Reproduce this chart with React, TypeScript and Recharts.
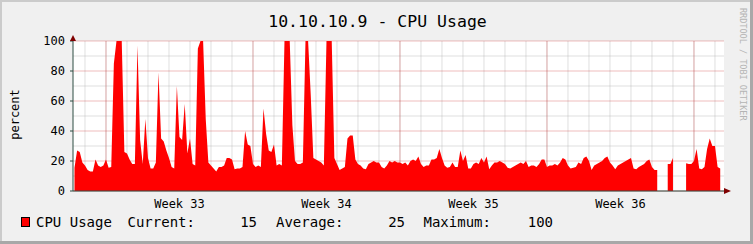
import React from "react";
import { AreaChart, Area, XAxis, YAxis, CartesianGrid } from "recharts";

// one sample every 3 hours, first sample half a day before the first day line
const START_DAY = -0.5;
const STEP_DAYS = 0.125;

const cpuUsage: (number | null)[] = [
  15.5, 27, 26, 19, 17, 14, 13, 13, 21, 17,
  16, 17, 21, 15.5, 16, 85, 100, 100, 100, 26,
  25, 21, 18, 18, 97, 34, 18, 48, 22, 15,
  15, 19, 79, 35, 33, 27, 22, 16, 15, 70,
  36, 34, 58, 25, 35, 18, 17, 95, 100, 100,
  48, 19, 17, 15, 13, 16, 16, 17, 22, 22,
  21, 14.5, 15, 15, 16, 40, 31, 30, 18, 16,
  17, 16, 55, 38, 27, 26, 31, 17, 18, 17,
  100, 100, 100, 44, 20, 18, 18, 19, 100, 100,
  64, 22, 21, 20, 19, 17, 100, 100, 100, 22,
  18, 14, 15, 16, 35, 37, 37, 21, 18, 17,
  15, 14.5, 18, 19, 20, 19, 19, 16, 15, 17,
  20, 19, 20, 19, 19, 18, 19, 17, 20, 21,
  20, 23, 18, 16, 17, 17, 21, 21, 22, 28,
  22, 17, 15.5, 16, 19, 16, 16, 27, 20, 24,
  15, 15, 18, 19, 18, 22, 19, 23, 14.5, 17,
  19, 19, 20, 19, 18, 15.5, 15, 16, 17, 18,
  19, 18, 20, 16, 17, 17, 16, 18, 21, 21,
  16, 17, 17, 18, 17, 19, 22, 21, 17, 15,
  15.5, 16, 19, 18, 22, 23, 20, 14, 17, 18,
  19, 20, 22, 23, 19, 17, 14.5, 17, 18, 19,
  20, 21, 22, 15, 14.5, 16, 17, 18, 20, 21,
  16, 14, 14, null, null, null, 18, 18, 22, null,
  null, null, null, 18.5, 18, 18, 20, 28, 15, 14.5,
  16, 28, 35, 30, 30, 16, 15,
];

const weekLabels = ["Week 33", "Week 34", "Week 35", "Week 36"];
const weekCenters = [4.5, 11.5, 18.5, 25.5];
const majorDays = [1, 8, 15, 22, 29];
const minorDays = Array.from({ length: 31 }, (_, i) => i);
const majorPercent = [0, 20, 40, 60, 80, 100];
const minorPercent = [10, 30, 50, 70, 90];

const legendName = "CPU Usage";
const legendStats = [
  { label: "Current:", value: "15" },
  { label: "Average:", value: "25" },
  { label: "Maximum:", value: "100" },
];

const data = cpuUsage.map((v, i) => ({ t: START_DAY + i * STEP_DAYS, cpu: v }));

const MONO = "'DejaVu Sans Mono', monospace";

export default function App() {
  return (
    <div
      style={{
        position: "absolute",
        left: 0,
        top: 0,
        width: 753,
        height: 244,
        background: "#f0f0f0",
        fontFamily: MONO,
      }}
    >
      <AreaChart
        width={753}
        height={244}
        data={data}
        margin={{ top: 41, right: 29, bottom: 23, left: 0 }}
      >
        <CartesianGrid
          fill="#ffffff"
          stroke="none"
          horizontal={false}
          vertical={false}
        />
        <XAxis
          dataKey="t"
          type="number"
          domain={[-0.571, 30.43]}
          ticks={weekCenters}
          tickFormatter={(v) => weekLabels[weekCenters.indexOf(v)] ?? ""}
          tickLine={false}
          tickSize={6}
          tickMargin={2}
          height={30}
          axisLine={{ stroke: "#2c4d43" }}
          tick={{ fill: "#000", fontSize: 12, fontFamily: MONO }}
          allowDataOverflow
        />
        <YAxis
          type="number"
          domain={[0, 100]}
          ticks={majorPercent}
          width={73}
          tickSize={3}
          tickMargin={5}
          tickLine={{ stroke: "#2c4d43" }}
          axisLine={{ stroke: "#2c4d43" }}
          tick={{ fill: "#000", fontSize: 12, fontFamily: MONO }}
        />
        <Area
          type="linear"
          dataKey="cpu"
          stroke="none"
          fill="#ff0000"
          fillOpacity={1}
          isAnimationActive={false}
        />
        <CartesianGrid
          stroke="#b0b0b0"
          strokeOpacity={0.4}
          verticalValues={minorDays}
          horizontalValues={minorPercent}
        />
        <CartesianGrid
          stroke="#d04040"
          strokeOpacity={0.35}
          verticalValues={majorDays}
          horizontalValues={majorPercent}
        />
      </AreaChart>

      <svg
        width={753}
        height={244}
        style={{ position: "absolute", left: 0, top: 0, pointerEvents: "none" }}
        fontFamily={MONO}
      >
        {/* frame */}
        <rect x={0} y={0} width={753} height={2} fill="#cbcbcb" />
        <rect x={0} y={0} width={2} height={244} fill="#cbcbcb" />
        <rect x={750} y={0} width={3} height={244} fill="#a8a8a8" />
        <rect x={0} y={241} width={753} height={3} fill="#a8a8a8" />

        {/* axis arrows */}
        <polygon points="70,41 76,41 73,35" fill="#7f0000" />
        <polygon points="724,188 724,194 731,191" fill="#7f0000" />

        <text x={377.5} y={26.5} textAnchor="middle" fontSize={16.5} fill="#000">
          10.10.10.9 - CPU Usage
        </text>
        <text
          x={18.5}
          y={114.5}
          textAnchor="middle"
          fontSize={12}
          fill="#000"
          transform="rotate(-90 18.5 114.5)"
        >
          percent
        </text>
        <text
          x={739.5}
          y={8}
          fontSize={8.5}
          fill="#b4b4b4"
          transform="rotate(90 739.5 8)"
        >
          RRDTOOL / TOBI OETIKER
        </text>

        {/* legend */}
        <rect x={21.5} y={217.5} width={8} height={9} fill="#ff0000" stroke="#000" />
        <g fontSize={14} fill="#000">
          <text x={36} y={226.8}>{legendName}</text>
          <text x={127.5} y={226.8}>{legendStats[0].label}</text>
          <text x={257} y={226.8} textAnchor="end">{legendStats[0].value}</text>
          <text x={276} y={226.8}>{legendStats[1].label}</text>
          <text x={405} y={226.8} textAnchor="end">{legendStats[1].value}</text>
          <text x={423.5} y={226.8}>{legendStats[2].label}</text>
          <text x={553} y={226.8} textAnchor="end">{legendStats[2].value}</text>
        </g>
      </svg>
    </div>
  );
}
